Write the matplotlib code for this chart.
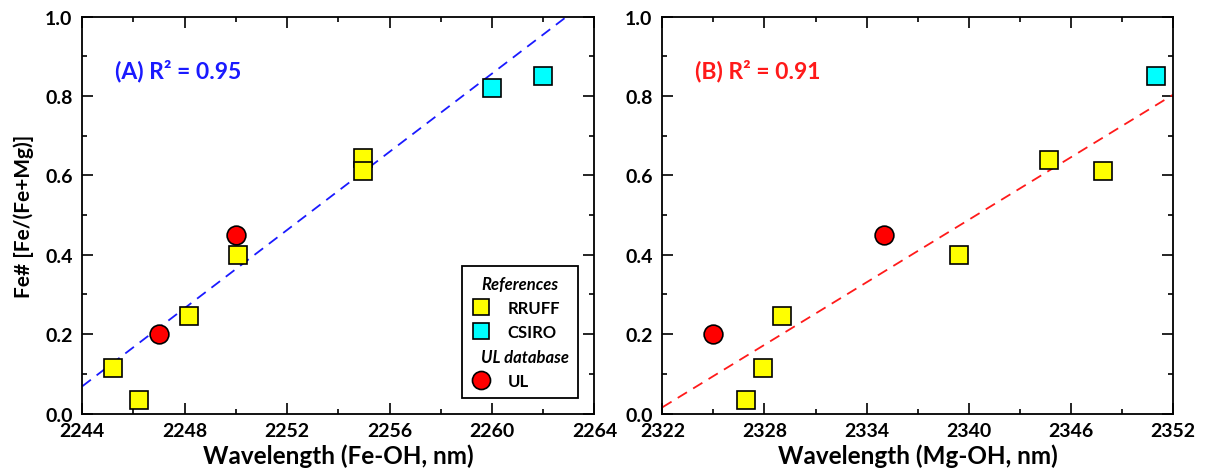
import matplotlib
matplotlib.use("Agg")
import matplotlib.pyplot as plt
from matplotlib.lines import Line2D
from matplotlib.ticker import MultipleLocator
import numpy as np

plt.rcParams['font.family'] = ['Lato', 'DejaVu Sans']
plt.rcParams['font.weight'] = 'bold'

# ---- Panel A data (Fe-OH wavelength) ----
a_rruff_x = [2245.2, 2246.2, 2248.15, 2250.1, 2254.95, 2254.95]
a_rruff_y = [0.115, 0.035, 0.245, 0.40, 0.645, 0.61]
a_csiro_x = [2260.0, 2262.0]
a_csiro_y = [0.82, 0.85]
a_ul_x = [2247.0, 2250.0]
a_ul_y = [0.20, 0.45]
a_fit = [0.04925, 0.0686]   # slope, value at x=2244
a_label = "(A) R² = 0.95"

# ---- Panel B data (Mg-OH wavelength) ----
b_rruff_x = [2326.9, 2327.9, 2329.0, 2339.4, 2344.7, 2347.9]
b_rruff_y = [0.035, 0.115, 0.245, 0.40, 0.64, 0.61]
b_csiro_x = [2351.0]
b_csiro_y = [0.85]
b_ul_x = [2325.0, 2335.0]
b_ul_y = [0.20, 0.45]
b_fit = [0.02626, 0.0156]  # slope, value at x=2322
b_label = "(B) R² = 0.91"

YELLOW = "#ffff00"
CYAN = "#00ffff"
RED = "#ff0000"
BLUE_T = "#1a1aff"
RED_T = "#ff1a1a"

fig = plt.figure(figsize=(12.06, 4.77), dpi=100)
axA = fig.add_axes([0.0682, 0.1310, 0.4247, 0.8319])
axB = fig.add_axes([0.5492, 0.1310, 0.4235, 0.8319])

sq_kw = dict(marker='s', linestyle='none', markersize=13, markeredgecolor='black',
             markeredgewidth=1.2, zorder=4)
ci_kw = dict(marker='o', linestyle='none', markersize=13.5, markeredgecolor='black',
             markeredgewidth=1.2, zorder=4)


def style(ax, xlim, xmaj, xmin):
    ax.set_xlim(*xlim)
    ax.set_ylim(0, 1.0)
    ax.xaxis.set_major_locator(MultipleLocator(xmaj))
    ax.xaxis.set_minor_locator(MultipleLocator(xmin))
    ax.yaxis.set_major_locator(MultipleLocator(0.2))
    ax.yaxis.set_minor_locator(MultipleLocator(0.1))
    ax.yaxis.set_major_formatter(plt.FuncFormatter(lambda v, p: f"{v:.1f}"))
    ax.tick_params(which='both', direction='in', top=True, right=True,
                   width=1.2, colors='black', labelsize=14)
    ax.tick_params(axis='x', which='major', pad=6)
    ax.tick_params(axis='y', which='major', pad=7)
    ax.tick_params(which='major', length=8)
    ax.tick_params(which='minor', length=3.5)
    for lab in ax.get_xticklabels() + ax.get_yticklabels():
        lab.set_fontweight('bold')
    for s in ax.spines.values():
        s.set_linewidth(1.3)


# Panel A
style(axA, (2244, 2264), 4, 2)
xa = np.array(axA.get_xlim())
axA.plot(xa, a_fit[1] + a_fit[0] * (xa - xa[0]), color=BLUE_T, lw=1.3,
         dashes=(6, 4), zorder=2)
axA.plot(a_rruff_x, a_rruff_y, markerfacecolor=YELLOW, **sq_kw)
axA.plot(a_csiro_x, a_csiro_y, markerfacecolor=CYAN, **sq_kw)
axA.plot(a_ul_x, a_ul_y, markerfacecolor=RED, **ci_kw)
axA.text(0.063, 0.865, a_label, transform=axA.transAxes, color=BLUE_T,
         fontsize=16.5, fontweight='bold', va='center', ha='left')
axA.set_xlabel("Wavelength (Fe-OH, nm)", fontsize=17.5, fontweight='bold', labelpad=3)
axA.set_ylabel("Fe# [Fe/(Fe+Mg)]", fontsize=15, fontweight='bold', labelpad=8)

# Legend
blank = Line2D([], [], linestyle='none', marker=None)
h_r = Line2D([], [], marker='s', linestyle='none', markersize=12, markerfacecolor=YELLOW,
             markeredgecolor='black', markeredgewidth=1.2)
h_c = Line2D([], [], marker='s', linestyle='none', markersize=12, markerfacecolor=CYAN,
             markeredgecolor='black', markeredgewidth=1.2)
h_u = Line2D([], [], marker='o', linestyle='none', markersize=13, markerfacecolor=RED,
             markeredgecolor='black', markeredgewidth=1.2)
leg = axA.legend([blank, h_r, h_c, blank, h_u],
                 ["References", "RRUFF", "CSIRO", "UL database", "UL"],
                 loc='lower right', bbox_to_anchor=(0.968, 0.039), fontsize=12,
                 frameon=True, fancybox=False, edgecolor='black', framealpha=1,
                 handlelength=1.2, handletextpad=1.0, labelspacing=0.5,
                 borderpad=0.55, borderaxespad=0)
leg.get_frame().set_linewidth(1.3)
texts = leg.get_texts()
for i in (0, 3):
    texts[i].set_fontstyle('italic')
    texts[i].set_fontweight('bold')
for i in (1, 2, 4):
    texts[i].set_fontweight('bold')
try:
    col = leg._legend_handle_box.get_children()[0]
    rows = col.get_children()
    for i in (0, 3):
        rows[i].get_children()[0].width = 0
        rows[i].sep = 7
except Exception:
    pass

# Panel B
style(axB, (2322, 2352), 6, 3)
xb = np.array(axB.get_xlim())
axB.plot(xb, b_fit[1] + b_fit[0] * (xb - xb[0]), color=RED_T, lw=1.3,
         dashes=(6, 4), zorder=2)
axB.plot(b_rruff_x, b_rruff_y, markerfacecolor=YELLOW, **sq_kw)
axB.plot(b_csiro_x, b_csiro_y, markerfacecolor=CYAN, **sq_kw)
axB.plot(b_ul_x, b_ul_y, markerfacecolor=RED, **ci_kw)
axB.text(0.064, 0.865, b_label, transform=axB.transAxes, color=RED_T,
         fontsize=16.5, fontweight='bold', va='center', ha='left')
axB.set_xlabel("Wavelength (Mg-OH, nm)", fontsize=17.5, fontweight='bold', labelpad=3)

fig.savefig("out.png", dpi=100)
